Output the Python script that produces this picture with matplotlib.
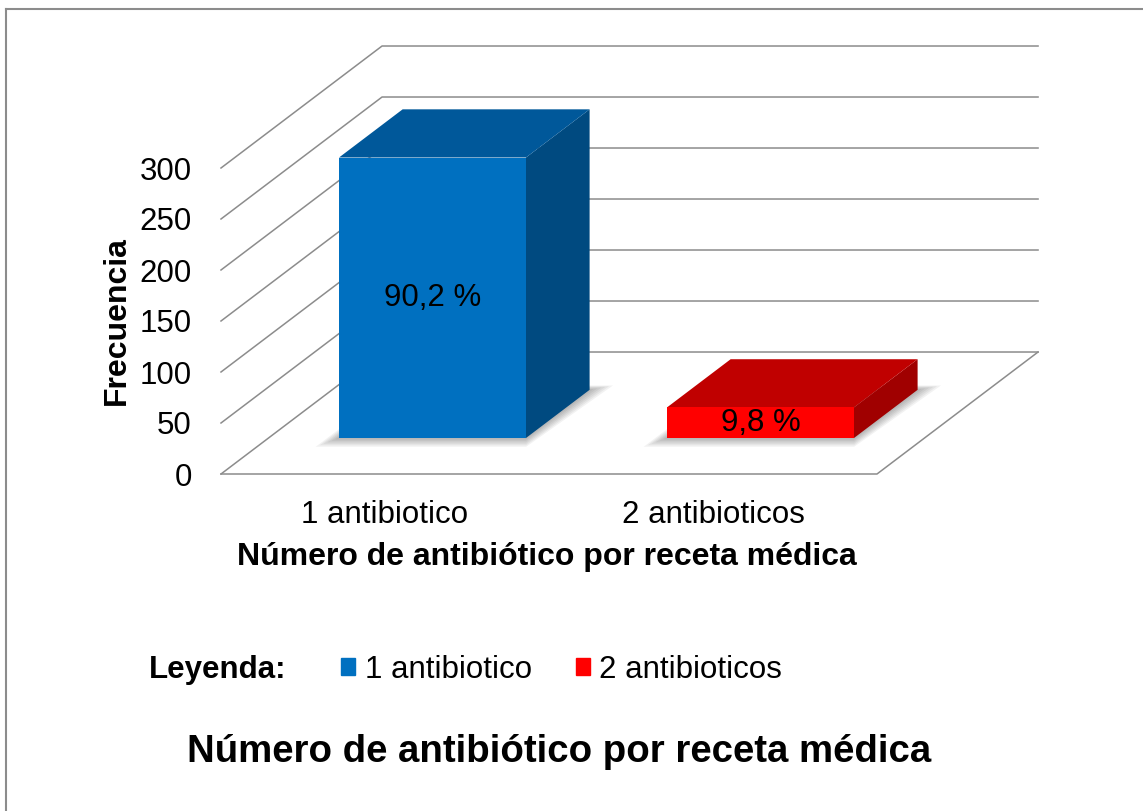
import matplotlib
matplotlib.use("Agg")
import matplotlib.pyplot as plt
from matplotlib.patches import Polygon, Patch
from matplotlib.lines import Line2D

# datos
categorias = ["1 antibiotico", "2 antibioticos"]
frecuencia = [275, 30]
colores_frente = ["#0070C0", "#FF0000"]
colores_arriba = ["#00589A", "#C00000"]
colores_lado = ["#004A80", "#A00000"]
yticks = [0, 50, 100, 150, 200, 250, 300]

plt.rcParams["font.family"] = ["Liberation Sans", "DejaVu Sans"]

# profundidad "3D" (oblicua) en unidades de los ejes
DX = 0.491   # desplazamiento en x (categorias) para toda la profundidad
DY = 119.6   # desplazamiento en y (valores) para toda la profundidad
Z0, Z1 = 0.295, 0.69  # profundidad de las barras
ANCHO = 0.57
GRIS = "#8c8c8c"


def proy(x, y, z):
    return (x + z * DX, y + z * DY)


fig = plt.figure(figsize=(11.43, 8.11), dpi=100)
ax = fig.add_axes([221 / 1143, (811 - 474) / 811, 656 / 1143, 306 / 811])
ax.set_xlim(-0.5, 1.5)
ax.set_ylim(0, 300)
for s in ax.spines.values():
    s.set_visible(False)
ax.patch.set_visible(False)

x0, x1 = ax.get_xlim()
# paredes: lineas de cuadricula en pared izquierda y fondo
for v in yticks:
    a = proy(x0, v, 0)
    b = proy(x0, v, 1)
    c = proy(x1, v, 1)
    ax.plot([a[0], b[0], c[0]], [a[1], b[1], c[1]], color=GRIS, lw=1.1,
            clip_on=False, zorder=1)
# piso
piso = [proy(x0, 0, 0), proy(x1, 0, 0), proy(x1, 0, 1)]
ax.plot([p[0] for p in piso], [p[1] for p in piso], color=GRIS, lw=1.1,
        clip_on=False, zorder=1)

total = sum(frecuencia)
for i, v in enumerate(frecuencia):
    xl, xr = i - ANCHO / 2, i + ANCHO / 2
    # sombra suave sobre el piso
    for k in range(6):
        e = 0.006 * (k + 1)
        sombra = [proy(xl - e, 0, Z0 - e * 2), proy(xr + e, 0, Z0 - e * 2),
                  proy(xr + e * 1.5, 0, Z1 + e), proy(xl - e, 0, Z1 + e)]
        ax.add_patch(Polygon(sombra, closed=True, color="#000000", alpha=0.05,
                             lw=0, clip_on=False, zorder=2))
    frente = [proy(xl, 0, Z0), proy(xr, 0, Z0), proy(xr, v, Z0), proy(xl, v, Z0)]
    arriba = [proy(xl, v, Z0), proy(xr, v, Z0), proy(xr, v, Z1), proy(xl, v, Z1)]
    lado = [proy(xr, 0, Z0), proy(xr, v, Z0), proy(xr, v, Z1), proy(xr, 0, Z1)]
    ax.add_patch(Polygon(lado, closed=True, color=colores_lado[i], lw=0,
                         clip_on=False, zorder=3))
    ax.add_patch(Polygon(arriba, closed=True, color=colores_arriba[i], lw=0,
                         clip_on=False, zorder=3))
    ax.add_patch(Polygon(frente, closed=True, color=colores_frente[i], lw=0,
                         clip_on=False, zorder=4))
    cx, cy = proy(i, v / 2, Z0)
    pct = f"{100 * v / total:.1f}".replace(".", ",") + " %"
    ax.text(cx, cy, pct, ha="center", va="center", fontsize=22.5, zorder=5)

ax.set_xticks(range(len(categorias)), categorias)
ax.set_yticks(yticks)
ax.tick_params(axis="both", length=0, labelsize=22.5)
ax.tick_params(axis="y", pad=21)
ax.tick_params(axis="x", pad=19)

ax.set_xlabel("Número de antibiótico por receta médica", fontsize=23,
              fontweight="bold", va="center")
ax.xaxis.set_label_coords((547 - 221) / 656, (474 - 557) / 306)
ax.set_ylabel("Frecuencia", fontsize=23, fontweight="bold", va="center")
ax.yaxis.set_label_coords((117 - 221) / 656, (474 - 321) / 306)

# leyenda
fig.text(218 / 1143, (811 - 670) / 811, "Leyenda:", fontsize=22.5,
         fontweight="bold", ha="center", va="center")
handles = [Patch(color=c) for c in colores_frente]
fig.legend(handles, categorias, loc="center left",
           bbox_to_anchor=(341 / 1143, (811 - 670) / 811), ncol=2,
           frameon=False, fontsize=22.5, handlelength=0.46, handleheight=0.46,
           handletextpad=0.3, columnspacing=1.4, borderpad=0, borderaxespad=0)

fig.text(559 / 1143, (811 - 752) / 811, "Número de antibiótico por receta médica",
         fontsize=27.6, fontweight="bold", ha="center", va="center")

# borde del grafico
fig.add_artist(Line2D([5.5 / 1143, 5.5 / 1143], [0, 1 - 8.5 / 811],
                      color="#8c8c8c", lw=1.5))
fig.add_artist(Line2D([5.5 / 1143, 1], [1 - 8.5 / 811, 1 - 8.5 / 811],
                      color="#8c8c8c", lw=1.5))

fig.savefig("out.png", dpi=100, facecolor="white")
